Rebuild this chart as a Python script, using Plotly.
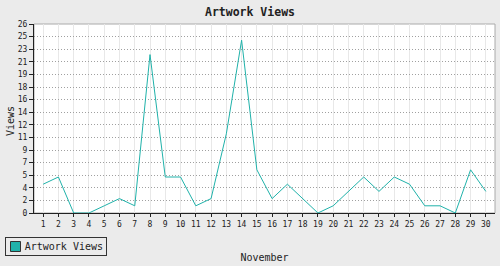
import plotly.graph_objects as go

days = list(range(1, 31))
views = [4, 5, 0, 0, 1, 2, 1, 22, 5, 5, 1, 2, 11, 24, 6, 2, 4, 2, 0, 1, 3, 5, 3, 5, 4, 1, 1, 0, 6, 3]
y_tick_vals = [k * 1.75 for k in range(16)]
y_tick_text = ["0", "2", "4", "5", "7", "9", "11", "12", "14", "16", "18", "19", "21", "23", "25", "26"]
series_name = "Artwork Views"
chart_title = "Artwork Views"
x_title = "November"
y_title = "Views"

FONT = "DejaVu Sans Mono"
TEAL = "#20b2aa"
INK = "#222222"

W, H = 500, 266
ML, MR, MT, MB = 34, 5, 24, 53
PW, PH = W - ML - MR, H - MT - MB


def px_x(px):
    return (px - ML) / PW


def px_y(py):
    return (H - MB - py) / PH


fig = go.Figure()
fig.add_trace(go.Scatter(
    x=days, y=views, mode="lines", name=series_name,
    line=dict(color=TEAL, width=1), showlegend=False,
))

fig.update_layout(
    width=W, height=H,
    margin=dict(l=ML, r=MR, t=MT, b=MB, autoexpand=False),
    paper_bgcolor="#ebebeb",
    plot_bgcolor="#ffffff",
    font=dict(family=FONT, size=10, color=INK),
    title=dict(text="<b>" + chart_title + "</b>", x=0.5, xanchor="center",
               xref="container", y=1 - 12 / H, yref="container", yanchor="middle",
               font=dict(family=FONT, size=11.5, color=INK)),
    showlegend=False,
    shapes=[
        dict(type="rect", xref="paper", yref="paper", x0=0, y0=0, x1=1, y1=1,
             line=dict(color="#aaaaaa", width=1), layer="below"),
        # legend swatch
        dict(type="rect", xref="paper", yref="paper",
             x0=px_x(10.5), x1=px_x(20.5), y0=px_y(251.5), y1=px_y(241.5),
             fillcolor=TEAL, line=dict(color="#333333", width=1), layer="above"),
    ],
    annotations=[
        # legend box
        dict(text=series_name, xref="paper", yref="paper",
             x=px_x(5), y=px_y(236.5), xanchor="left", yanchor="top",
             showarrow=False, width=94, align="right", borderpad=3,
             bordercolor="#333333", borderwidth=1,
             font=dict(family=FONT, size=10, color=INK)),
        # y axis title
        dict(text=y_title, xref="paper", yref="paper",
             x=px_x(10), y=px_y(121), xanchor="center", yanchor="middle",
             textangle=-90, showarrow=False,
             font=dict(family=FONT, size=10, color=INK)),
    ],
)

fig.update_xaxes(
    range=[0.4, 30.6], tickmode="array", tickvals=days, ticktext=[str(d) for d in days],
    showgrid=True, gridcolor="#e8e8e8", gridwidth=1,
    showline=True, linecolor=INK, linewidth=1,
    ticks="outside", ticklen=3, tickcolor=INK,
    tickfont=dict(family=FONT, size=8, color=INK),
    zeroline=False,
    title=dict(text=x_title, standoff=26, font=dict(family=FONT, size=10, color=INK)),
    automargin=False,
)
fig.update_yaxes(
    range=[0, 26.25], tickmode="array", tickvals=y_tick_vals, ticktext=y_tick_text,
    showgrid=True, gridcolor="#a0a0a0", gridwidth=1, griddash="1px,2px",
    showline=True, linecolor=INK, linewidth=1,
    ticks="outside", ticklen=4, tickcolor=INK,
    tickfont=dict(family=FONT, size=8, color=INK),
    zeroline=False,
    automargin=False,
)

fig.write_html("out.html")
